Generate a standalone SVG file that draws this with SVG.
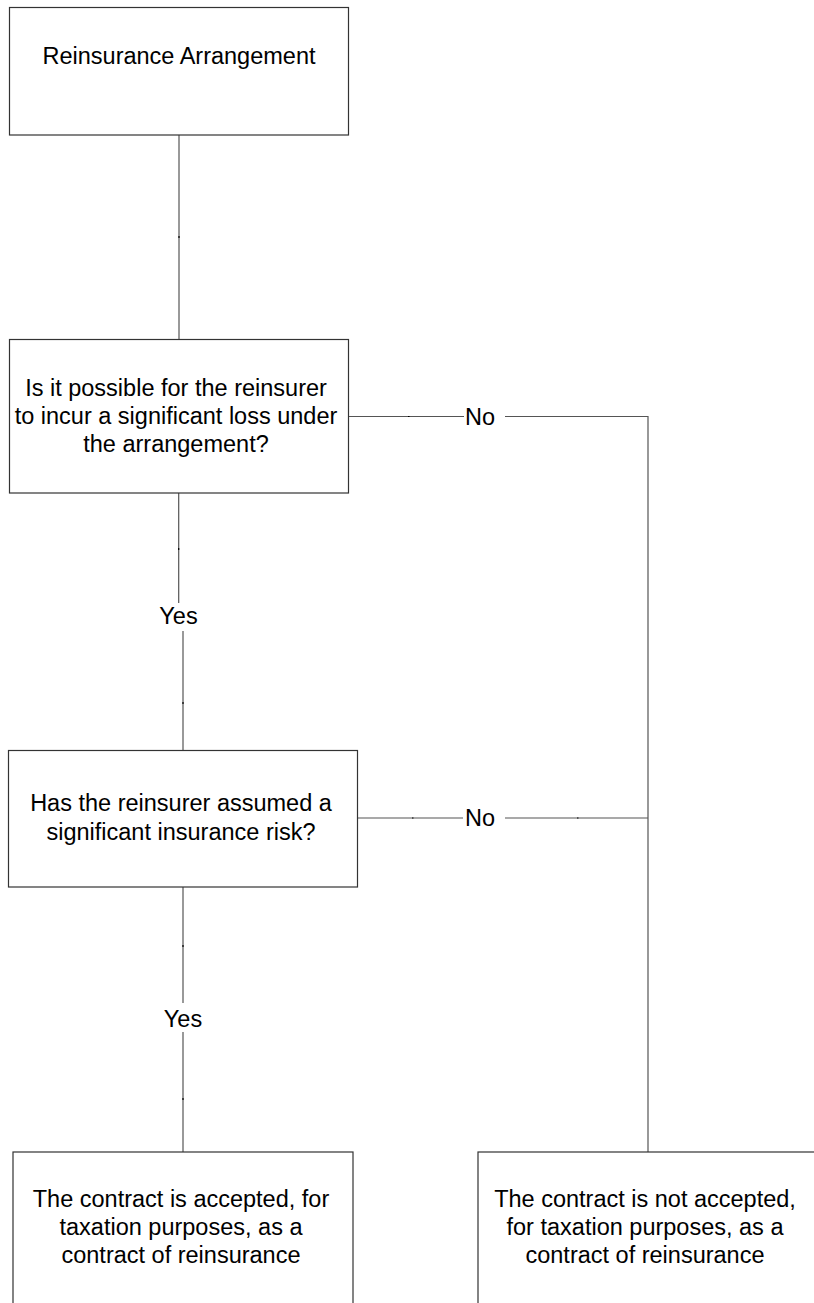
<svg xmlns="http://www.w3.org/2000/svg" width="814" height="1303" viewBox="0 0 814 1303">
<style>
.box{fill:#ffffff;stroke:#333333;stroke-width:1.2}
.t{font-family:"Liberation Sans",Arial,sans-serif;font-size:23.5px;fill:#000000;text-anchor:middle}
.c{fill:none;stroke:#555555;stroke-width:1.2}
.tick{fill:none;stroke:#000000;stroke-width:1.2}
</style>
<rect x="0" y="0" width="814" height="1303" fill="#ffffff"/>
<g id="connectors">
<path class="c" d="M179,135 V339"/>
<path class="c" d="M178.7,493 V603"/>
<path class="c" d="M183,631 V750"/>
<path class="c" d="M183,887 V1003"/>
<path class="c" d="M183,1032 V1152"/>
<path class="c" d="M348,416.5 H464"/>
<path class="c" d="M505,416.5 H648 V1152"/>
<path class="c" d="M357.7,818 H463"/>
<path class="c" d="M505,818 H648"/>
<path class="tick" d="M178.7,548 v2 M183,702 v2 M183,945 v2 M183,1098 v2 M408,416.5 h1.5 M412,818 h1.5 M577,818 h1.5 M179,236 v2"/>
<text class="t" x="480" y="424.5">No</text>
<text class="t" x="480" y="826">No</text>
<text class="t" x="178.5" y="624">Yes</text>
<text class="t" x="183" y="1027">Yes</text>
</g>
<g id="start">
<rect class="box" x="9.5" y="7.5" width="339" height="127.5"/>
<text class="t" x="179" y="64">Reinsurance Arrangement</text>
</g>
<g id="q1">
<rect class="box" x="9.5" y="339.5" width="339" height="153.5"/>
<text class="t" x="176" y="396">Is it possible for the reinsurer</text>
<text class="t" x="176" y="424">to incur a significant loss under</text>
<text class="t" x="176" y="452">the arrangement?</text>
</g>
<g id="q2">
<rect class="box" x="8.5" y="750.5" width="349" height="136.5"/>
<text class="t" x="181" y="811">Has the reinsurer assumed a</text>
<text class="t" x="181" y="840">significant insurance risk?</text>
</g>
<g id="accepted">
<rect class="box" x="13" y="1152" width="340" height="170"/>
<text class="t" x="181" y="1207">The contract is accepted, for</text>
<text class="t" x="181" y="1235">taxation purposes, as a</text>
<text class="t" x="181" y="1263">contract of reinsurance</text>
</g>
<g id="not-accepted">
<rect class="box" x="478" y="1152" width="360" height="170"/>
<text class="t" x="645" y="1207">The contract is not accepted,</text>
<text class="t" x="645" y="1235">for taxation purposes, as a</text>
<text class="t" x="645" y="1263">contract of reinsurance</text>
</g>
</svg>
